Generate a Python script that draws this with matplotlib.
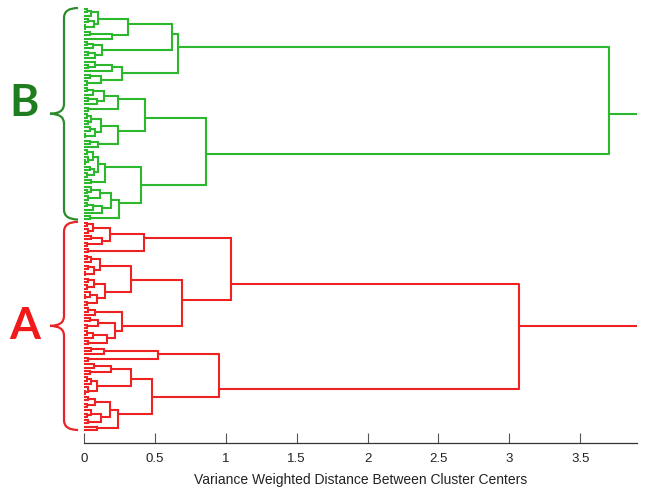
import matplotlib
matplotlib.use('Agg')
import matplotlib.pyplot as plt
from matplotlib.path import Path
from matplotlib.patches import PathPatch

# merge heights as nested [height, upper, lower]; 0 is a single leaf
b_top = [0.66,
         [0.62,
          [0.31,
           [0.10, [0.05, [0.02, 0, 0], 0], [0.07, [0.03, 0, 0], [0.01, 0, 0]]],
           [0.20, [0.04, 0, 0], 0]],
          [0.13, [0.06, [0.02, 0, 0], 0], [0.08, [0.03, 0, 0], 0]]],
         [0.27,
          [0.20, [0.08, 0, [0.03, 0, 0]], 0],
          [0.12, [0.04, 0, 0], [0.02, 0, 0]]]]

b_bottom = [0.86,
            [0.43,
             [0.24, [0.14, [0.06, [0.02, 0, 0], 0], [0.09, [0.03, 0, 0], 0]], [0.03, 0, 0]],
             [0.24, [0.12, [0.05, [0.02, 0, 0], [0.03, 0, 0]], [0.08, [0.04, 0, 0], [0.01, 0, 0]]],
              [0.10, [0.04, 0, 0], 0]]],
            [0.40,
             [0.15, [0.10, [0.06, [0.02, 0, 0], [0.03, 0, [0.01, 0, 0]]], [0.07, [0.04, 0, 0], [0.02, 0, 0]]],
              [0.05, 0, 0]],
             [0.25, [0.19, [0.11, [0.05, 0, [0.02, 0, 0]], [0.03, 0, 0]], [0.13, [0.06, [0.02, 0, 0], 0], 0]],
              [0.04, 0, 0]]]]

a_top = [1.04,
         [0.42, [0.18, [0.06, [0.02, 0, 0], [0.03, 0, 0]], [0.13, [0.05, 0, 0], [0.02, 0, 0]]], [0.03, 0, 0]],
         [0.69,
          [0.33,
           [0.11, [0.05, [0.02, 0, 0], 0], [0.07, [0.03, 0, 0], [0.01, 0, 0]]],
           [0.15, [0.07, [0.03, 0, 0], [0.02, 0, 0]], [0.09, [0.04, 0, [0.01, 0, 0]], [0.02, 0, 0]]]],
          [0.27, [0.08, [0.03, 0, 0], 0],
           [0.22, [0.10, [0.04, 0, 0], [0.02, 0, 0]], [0.16, [0.06, [0.02, 0, 0], 0], [0.03, 0, 0]]]]]]

a_bottom = [0.95,
            [0.52, [0.14, [0.05, 0, 0], 0], [0.03, 0, 0]],
            [0.48,
             [0.33, [0.19, [0.07, 0, 0], [0.04, 0, 0]], [0.09, [0.05, [0.02, 0, 0], 0], [0.03, 0, [0.01, 0, 0]]]],
             [0.24, [0.18, [0.08, [0.03, 0, 0], [0.02, 0, 0]], [0.12, [0.05, 0, [0.02, 0, 0]], [0.03, 0, 0]]],
              [0.09, 0, 0]]]]

cluster_names = ['B', 'A']
cluster_heights = [3.70, 3.07]
cluster_trees = [[b_top, b_bottom], [a_top, a_bottom]]

xticks = [0, 0.5, 1, 1.5, 2, 2.5, 3, 3.5]
xtick_labels = ['0', '0.5', '1', '1.5', '2', '2.5', '3', '3.5']
x_max = 3.9

line_colors = ['#2cb82c', '#ee2222']
label_colors = ['#1e7d1e', '#f01a1a']
brace_colors = ['#2a8c2a', '#e82428']

narrow = ['Liberation Sans Narrow', 'Liberation Sans', 'DejaVu Sans']

counter = [0]


def draw(ax, node, color):
    # returns sum of leaf positions, number of leaves, height
    if node == 0:
        y = counter[0]
        counter[0] += 1
        return float(y), 1, 0.0
    h = node[0]
    s1, n1, h1 = draw(ax, node[1], color)
    s2, n2, h2 = draw(ax, node[2], color)
    y1 = s1 / n1
    y2 = s2 / n2
    ax.plot([h1, h, h, h2], [y1, y1, y2, y2], color=color, lw=1.5,
            solid_joinstyle='miter', solid_capstyle='butt')
    return s1 + s2, n1 + n2, h


def brace(ax, top, bot, color):
    x_tip, x_sp, x_pt = -0.042, -0.141, -0.24
    mid = (top + bot) / 2
    r = 3.0
    verts = [(x_tip, top), (x_sp, top), (x_sp, top + r),
             (x_sp, mid - r), (x_sp, mid), (x_pt, mid),
             (x_sp, mid), (x_sp, mid + r),
             (x_sp, bot - r), (x_sp, bot), (x_tip, bot)]
    codes = [Path.MOVETO, Path.CURVE3, Path.CURVE3,
             Path.LINETO, Path.CURVE3, Path.CURVE3,
             Path.CURVE3, Path.CURVE3,
             Path.LINETO, Path.CURVE3, Path.CURVE3]
    ax.add_patch(PathPatch(Path(verts, codes), fill=False, edgecolor=color,
                           lw=1.6, clip_on=False))
    return mid


fig = plt.figure(figsize=(6.46, 4.96), dpi=100)
ax = fig.add_axes([84 / 646, 1 - 443 / 496, (637 - 84) / 646, (443 - 2) / 496])

label_dy = [-3.2, 0.0]
for i, name in enumerate(cluster_names):
    first = counter[0]
    s1, n1, h1 = draw(ax, cluster_trees[i][0], line_colors[i])
    s2, n2, h2 = draw(ax, cluster_trees[i][1], line_colors[i])
    y1, y2 = s1 / n1, s2 / n2
    h = cluster_heights[i]
    ax.plot([h1, h, h, h2], [y1, y1, y2, y2], color=line_colors[i], lw=1.5)
    yc = (s1 + s2) / (n1 + n2)
    ax.plot([h, x_max], [yc, yc], color=line_colors[i], lw=1.5)
    last = counter[0] - 1
    mid = brace(ax, first - 0.3, last, brace_colors[i])
    ax.text(-0.42, mid + label_dy[i], name, color=label_colors[i], fontsize=32,
            fontweight='bold', family=['Lato', 'DejaVu Sans'],
            ha='center', va='center', clip_on=False)

n_leaves = counter[0]
step = (430 - 9) / (n_leaves - 1)
ax.set_ylim(n_leaves - 1 + (443 - 430) / step, -(9 - 2) / step)
ax.set_xlim(0, x_max)

for side in ['top', 'left', 'right']:
    ax.spines[side].set_visible(False)
ax.spines['bottom'].set_color('#333333')
ax.spines['bottom'].set_linewidth(0.9)
ax.set_yticks([])
ax.set_xticks(xticks)
ax.set_xticklabels(xtick_labels, family=narrow, fontsize=9.5, color='#222222')
ax.tick_params(axis='x', direction='in', length=7, width=0.8, color='#555555', pad=7)
ax.set_xlabel('Variance Weighted Distance Between Cluster Centers', family=narrow,
              fontsize=10, color='#222222', labelpad=6)

fig.savefig('out.png', dpi=100)
